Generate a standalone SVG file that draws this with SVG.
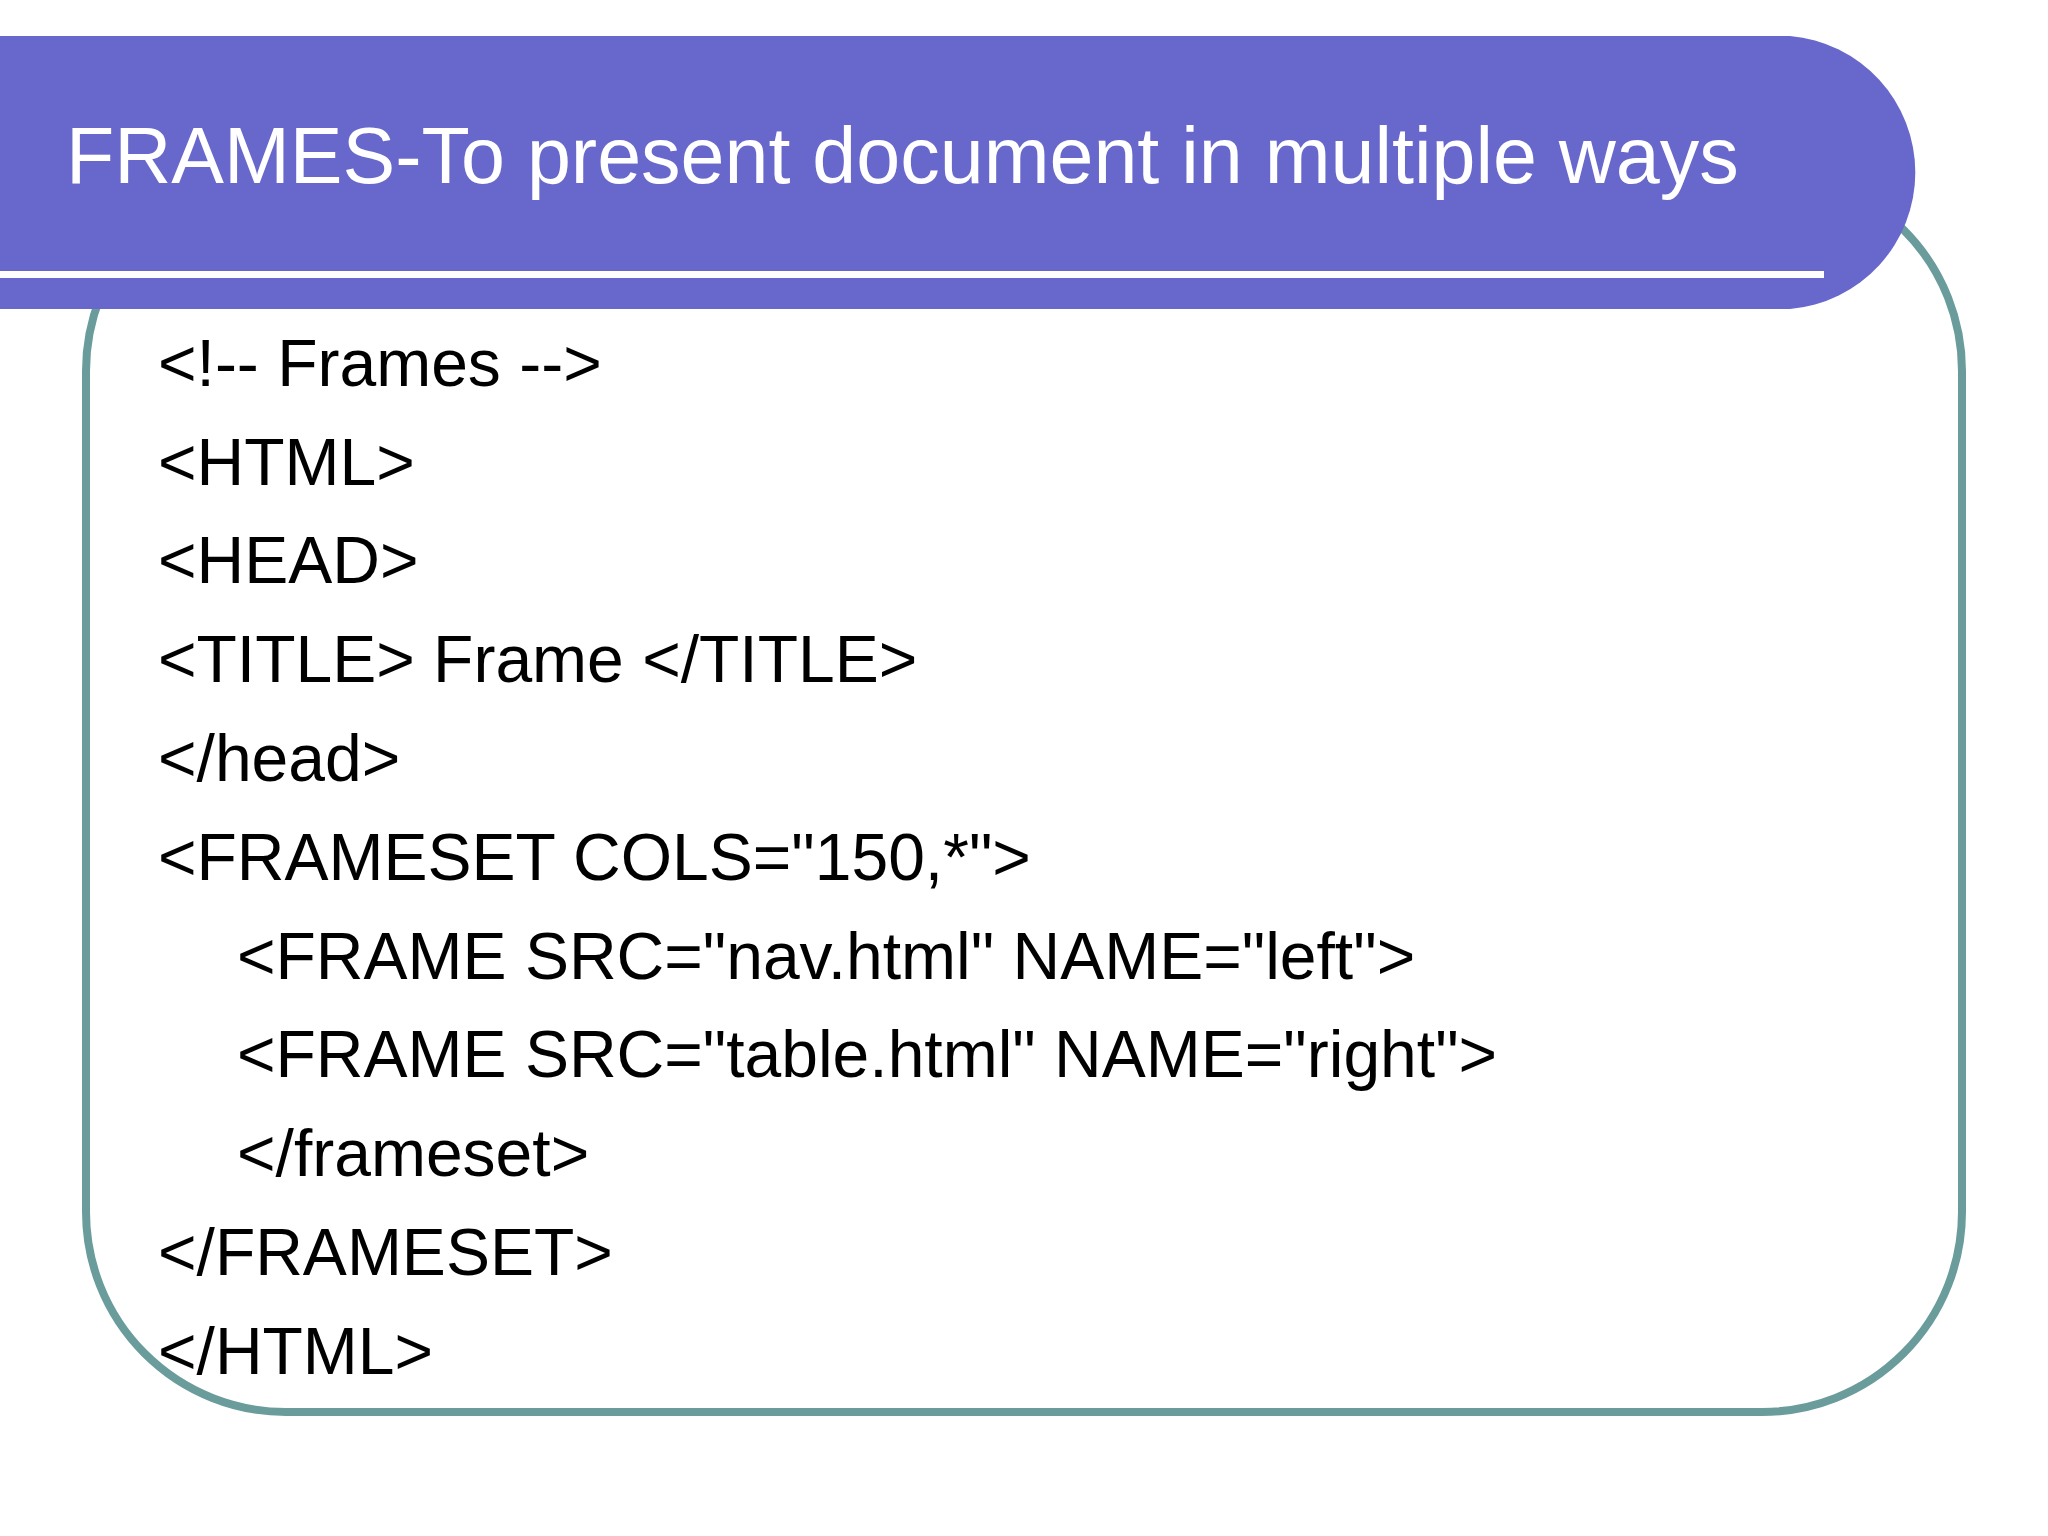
<svg xmlns="http://www.w3.org/2000/svg" width="2048" height="1536" viewBox="0 0 2048 1536">
<style>
.code{font-family:"Liberation Sans",Arial,sans-serif;font-size:66px;fill:#000}
</style>
<rect width="2048" height="1536" fill="#ffffff"/>
<g id="frame"><rect x="86" y="171" width="1876" height="1241" rx="200" ry="200" fill="#ffffff" stroke="#6A9C9C" stroke-width="8"/></g>
<g id="header">
<path d="M0 36 H1790 A137 137 0 0 1 1790 309 H0 Z" fill="#6868CC"/>
<rect x="0" y="271" width="1824" height="7" fill="#ffffff"/>
<text x="66" y="183" font-family="'Liberation Sans',Arial,sans-serif" font-size="79" fill="#ffffff">FRAMES-To present document in multiple ways</text>
</g>
<g id="code">
<text class="code" x="158" y="386">&lt;!-- Frames --&gt;</text>
<text class="code" x="158" y="485">&lt;HTML&gt;</text>
<text class="code" x="158" y="583">&lt;HEAD&gt;</text>
<text class="code" x="158" y="682">&lt;TITLE&gt; Frame &lt;/TITLE&gt;</text>
<text class="code" x="158" y="781">&lt;/head&gt;</text>
<text class="code" x="158" y="880">&lt;FRAMESET COLS="150,*"&gt;</text>
<text class="code" x="237" y="979">&lt;FRAME SRC="nav.html" NAME="left"&gt;</text>
<text class="code" x="237" y="1077">&lt;FRAME SRC="table.html" NAME="right"&gt;</text>
<text class="code" x="237" y="1176">&lt;/frameset&gt;</text>
<text class="code" x="158" y="1275">&lt;/FRAMESET&gt;</text>
<text class="code" x="158" y="1374">&lt;/HTML&gt;</text>
</g>
</svg>
